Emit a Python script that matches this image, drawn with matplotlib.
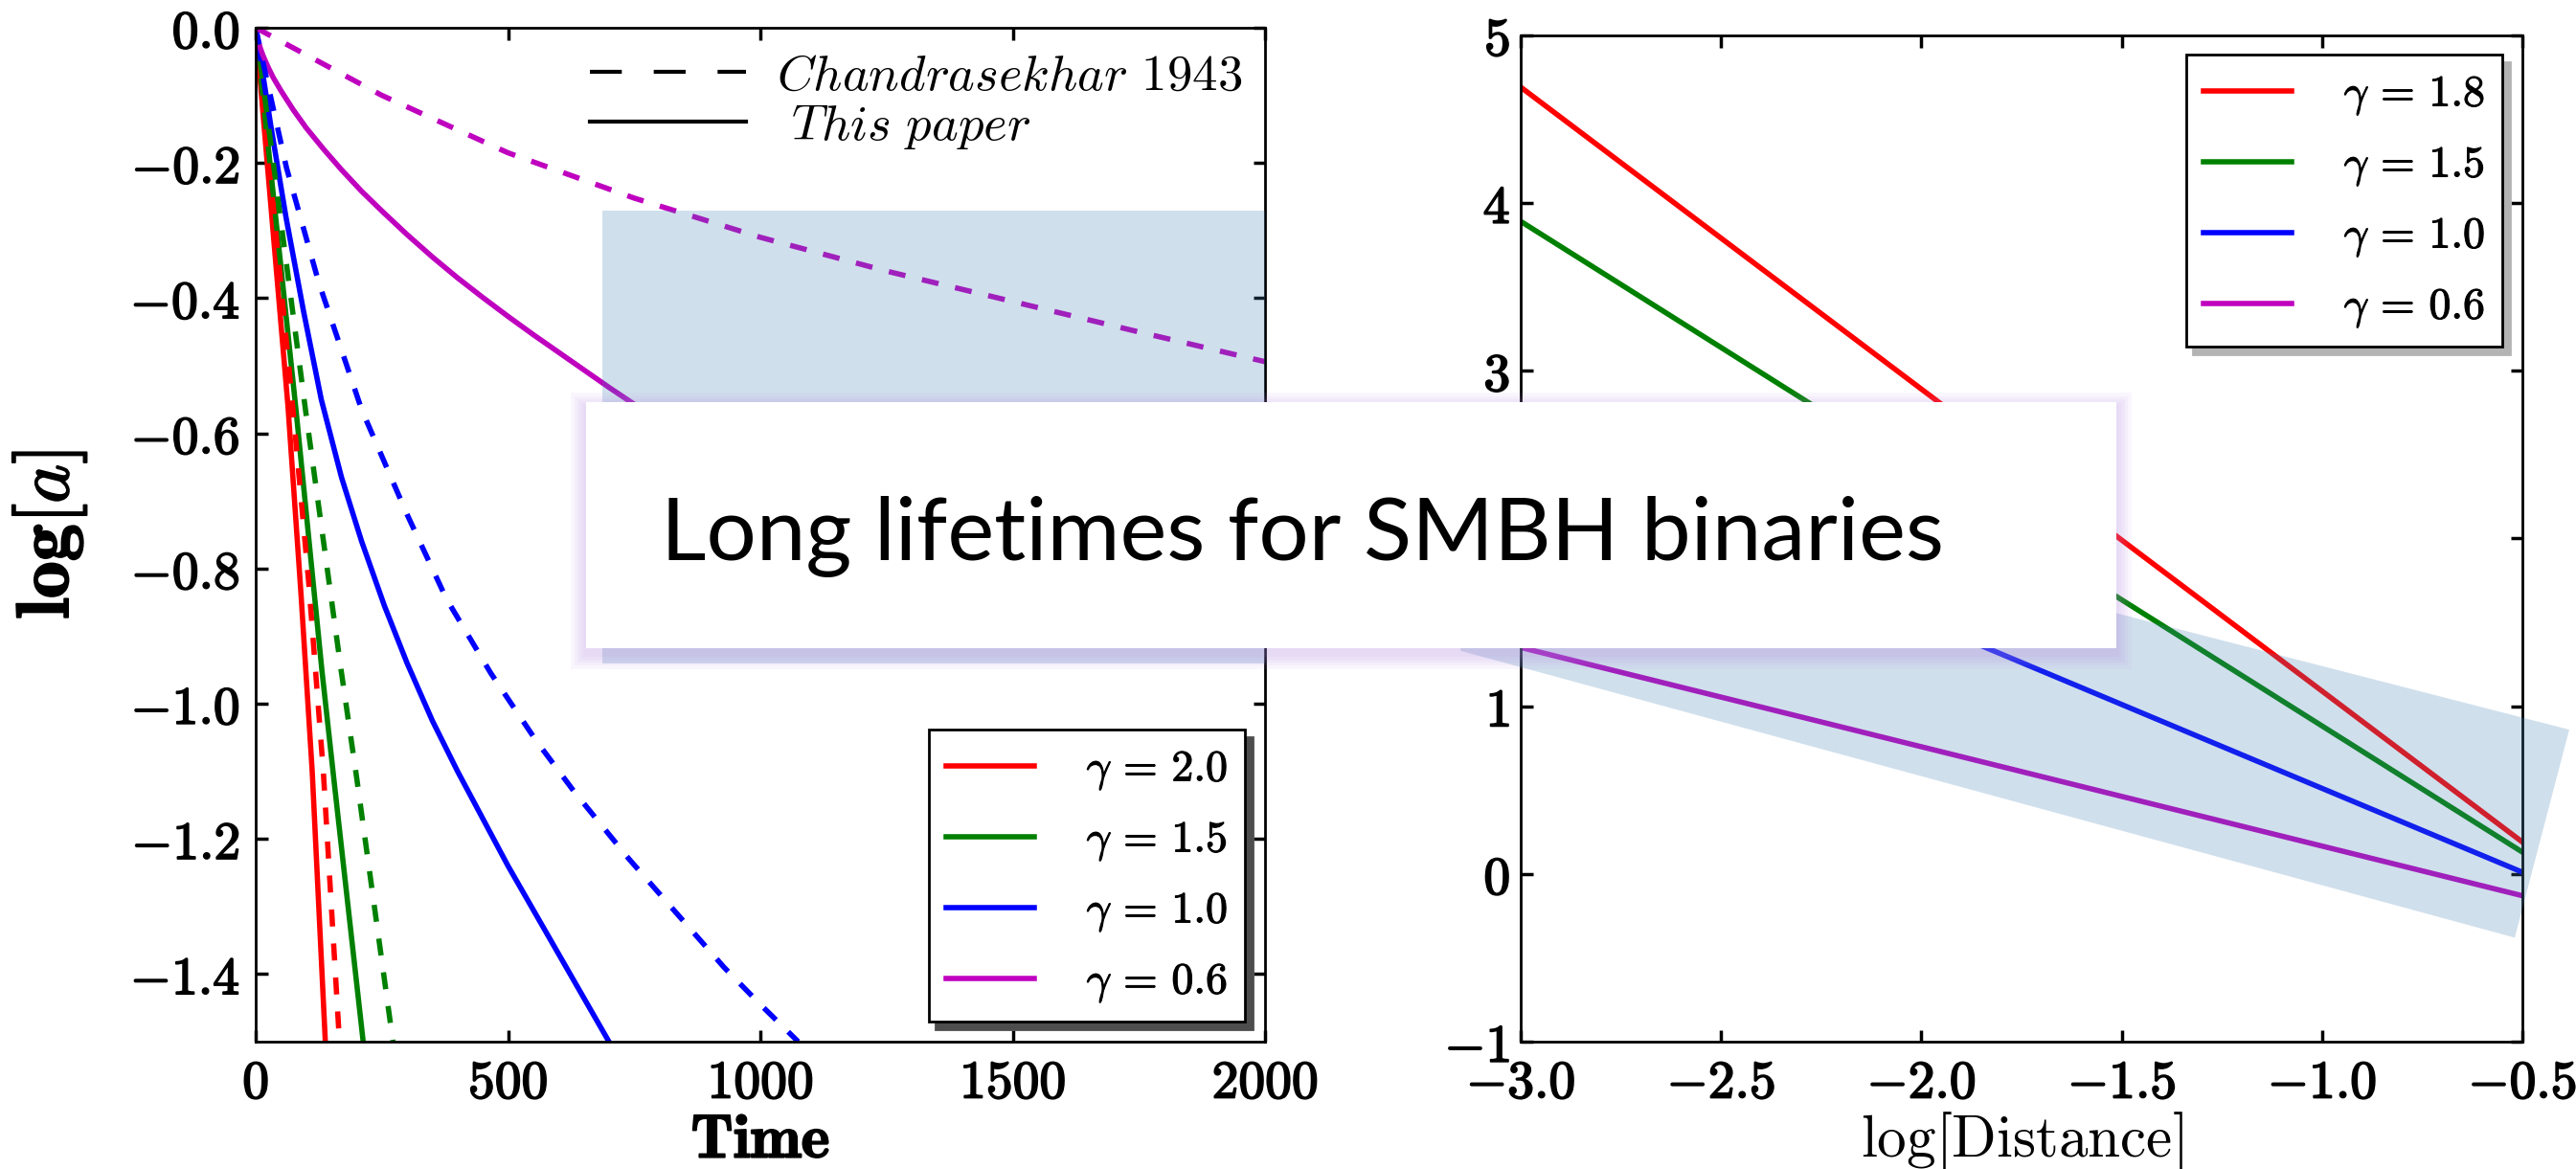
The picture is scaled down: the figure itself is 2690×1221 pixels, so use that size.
import numpy as np
import matplotlib
matplotlib.use('Agg')
import matplotlib.pyplot as plt
import matplotlib.patheffects as pe
from matplotlib.lines import Line2D
from matplotlib.patches import Rectangle, Polygon
from matplotlib.ticker import FuncFormatter

plt.rcParams['mathtext.fontset'] = 'cm'
plt.rcParams['axes.linewidth'] = 2.0

# ---- left panel: log[a] against time (solid = this paper, dashed = Chandrasekhar 1943)
t_r = [0, 32, 64, 90, 112, 138]
a_r = [0, -0.28, -0.56, -0.84, -1.10, -1.50]
t_r_ch = [0, 37, 74, 105, 134, 166]
a_r_ch = [0, -0.28, -0.566, -0.82, -1.10, -1.50]

t_g = [0, 80, 131, 156, 213]
a_g = [0, -0.566, -0.949, -1.119, -1.50]
t_g_ch = [0, 99, 169, 200, 272]
a_g_ch = [0, -0.567, -0.949, -1.109, -1.50]

t_b = [0, 30, 60, 95, 130, 170, 210, 255, 300, 350, 400, 450, 500, 550, 600, 650, 700]
a_b = [0, -0.145, -0.28, -0.42, -0.55, -0.665, -0.76, -0.855, -0.94, -1.025, -1.10,
       -1.17, -1.24, -1.305, -1.37, -1.435, -1.50]
t_b_ch = [0, 20, 61, 125, 210, 300, 378, 466, 556, 631, 740, 834, 928, 1000, 1075]
a_b_ch = [0, -0.07, -0.207, -0.377, -0.565, -0.72, -0.845, -0.955, -1.055, -1.13,
          -1.23, -1.31, -1.39, -1.445, -1.50]

t_m = [0, 5, 10, 15, 25, 35, 50, 75, 100, 135, 170, 210, 250, 300, 350, 400, 450, 500,
       550, 600, 650, 700, 750, 900, 1100, 1300, 1500, 1750, 2000]
a_m = [0, -0.020, -0.032, -0.042, -0.059, -0.074, -0.093, -0.122, -0.148, -0.180, -0.21,
       -0.242, -0.271, -0.306, -0.339, -0.37, -0.399, -0.427, -0.454, -0.48, -0.506,
       -0.532, -0.557, -0.62, -0.69, -0.75, -0.80, -0.85, -0.89]
t_m_ch = [0, 100, 250, 500, 750, 1000, 1250, 1500, 1750, 2000]
a_m_ch = [0, -0.04, -0.10, -0.185, -0.252, -0.31, -0.36, -0.405, -0.45, -0.494]

gam_left = ['2.0', '1.5', '1.0', '0.6']

# ---- right panel: straight lines against log[Distance]
dist = [-3.0, -0.5]
d_r = [4.69, 0.19]
d_g = [3.89, 0.13]
d_b = [2.51, 0.01]
d_m = [1.35, -0.13]
gam_right = ['1.8', '1.5', '1.0', '0.6']

# highlight shapes
hl_t = [686, 2000]
hl_a = [-0.27, -0.94]
band_x = [-3.15, -0.383, -0.519, -3.15]
band_y = [2.56, 0.86, -0.38, 1.33]

title = 'Long lifetimes for SMBH binaries'

cols = ['r', 'g', 'b', 'm']
W, H = 2690, 1221
fig = plt.figure(figsize=(W / 100, H / 100), dpi=100)

ax1 = fig.add_axes([267 / W, 1 - 1088 / H, 1054 / W, 1059 / H])
ax2 = fig.add_axes([1588 / W, 1 - 1088 / H, 1046 / W, (1088 - 36.7) / H])

bold = [pe.withStroke(linewidth=1.3, foreground='k')]


def num(v, fmt):
    s = fmt % abs(v)
    if v < -1e-9:
        return r'$-\mathbf{%s}$' % s
    return r'$\mathbf{%s}$' % s


lw = 4.0
dash = (0, (3.2, 3.2))
solid_t = [(t_r, a_r), (t_g, a_g), (t_b, a_b), (t_m, a_m)]
dash_t = [(t_r_ch, a_r_ch), (t_g_ch, a_g_ch), (t_b_ch, a_b_ch), (t_m_ch, a_m_ch)]
h1 = []
for (tt, aa), c, g in zip(solid_t, cols, gam_left):
    ln, = ax1.plot(tt, aa, color=c, lw=lw, label=r'$\gamma\,=\,\mathbf{%s}$' % g)
    h1.append(ln)
for (tt, aa), c in zip(dash_t, cols):
    ax1.plot(tt, aa, color=c, lw=lw, ls=dash)

ax1.add_patch(Rectangle((hl_t[0], hl_a[1]), hl_t[1] - hl_t[0], hl_a[0] - hl_a[1],
                        facecolor='steelblue', alpha=0.25, edgecolor='none', zorder=3))

ax1.set_xlim(0, 2000)
ax1.set_ylim(-1.5, 0.0)
ax1.set_xticks([0, 500, 1000, 1500, 2000])
ax1.set_yticks([0.0, -0.2, -0.4, -0.6, -0.8, -1.0, -1.2, -1.4])
ax1.xaxis.set_major_formatter(FuncFormatter(lambda v, p: num(v, '%d')))
ax1.yaxis.set_major_formatter(FuncFormatter(lambda v, p: num(v, '%.1f')))
ax1.tick_params(direction='in', length=9, width=2.5, top=True, right=True,
                labelsize=40, pad=12)
ax1.set_xlabel(r'$\mathbf{Time}$', fontsize=46, path_effects=bold)
ax1.xaxis.set_label_coords(0.5, -0.068)
ax1.set_ylabel(r'$\mathbf{log[}\mathit{a}\mathbf{]}$', fontsize=56, path_effects=bold)
ax1.yaxis.set_label_coords(-0.165, 0.5)

shadow = {'ox': 5.5, 'oy': -5.5, 'color': '0.3', 'alpha': 1.0}
leg1 = ax1.legend(handles=h1, loc='lower right', fontsize=33, fancybox=False,
                  shadow=shadow, handlelength=2.0, labelspacing=0.6,
                  borderaxespad=0.45, handletextpad=1.2)
leg1.get_frame().set_edgecolor('k')
leg1.get_frame().set_linewidth(2.0)
for tx in leg1.get_texts():
    tx.set_path_effects([pe.withStroke(linewidth=0.8, foreground='k')])
ax1.add_artist(leg1)

ref_h = [Line2D([], [], color='k', lw=3, ls=(0, (8, 8))),
         Line2D([], [], color='k', lw=3)]
ref_l = [r'$Chandrasekhar\ 1943$', r'$\ This\ paper$']
ax1.legend(ref_h, ref_l, loc='upper right', frameon=False, fontsize=38,
           handlelength=3.1, labelspacing=0.0, borderaxespad=0.15,
           borderpad=0.3, handletextpad=0.6)

h2 = []
for vals, c, g in zip([d_r, d_g, d_b, d_m], cols, gam_right):
    ln, = ax2.plot(dist, vals, color=c, lw=lw, label=r'$\gamma\,=\,\mathbf{%s}$' % g)
    h2.append(ln)
ax2.add_patch(Polygon(np.column_stack([band_x, band_y]), closed=True,
                      facecolor='steelblue', alpha=0.25, edgecolor='none',
                      zorder=3, clip_on=False))
ax2.set_xlim(-3.0, -0.5)
ax2.set_ylim(-1, 5)
ax2.set_xticks([-3.0, -2.5, -2.0, -1.5, -1.0, -0.5])
ax2.set_yticks([-1, 0, 1, 2, 3, 4, 5])
ax2.xaxis.set_major_formatter(FuncFormatter(lambda v, p: num(v, '%.1f')))
ax2.yaxis.set_major_formatter(FuncFormatter(lambda v, p: num(v, '%d')))
ax2.tick_params(direction='in', length=9, width=2.5, top=True, right=True,
                labelsize=40, pad=12)
ax2.tick_params(axis='y', pad=8)
ax2.set_xlabel(r'$\mathrm{log[Distance]}$', fontsize=44)
ax2.xaxis.set_label_coords(0.5, -0.068)
leg2 = ax2.legend(handles=h2, loc='upper right', fontsize=33, fancybox=False,
                  shadow={'ox': 5.5, 'oy': -5.5, 'color': '0.7', 'alpha': 1.0},
                  handlelength=2.0, labelspacing=0.6, borderaxespad=0.45,
                  handletextpad=1.2)
leg2.get_frame().set_edgecolor('k')
leg2.get_frame().set_linewidth(2.0)
for tx in leg2.get_texts():
    tx.set_path_effects([pe.withStroke(linewidth=0.8, foreground='k')])

for ax in (ax1, ax2):
    for lab in ax.get_xticklabels() + ax.get_yticklabels():
        lab.set_path_effects(bold)

# title card over both panels
bx0, by0, bx1, by1 = 612, 420, 2210, 677
for grow in [16, 12, 9, 6, 3]:
    fig.patches.append(Rectangle(((bx0 - grow) / W, 1 - (by1 + 6 + grow) / H),
                                 (bx1 - bx0 + 2 * grow) / W, (by1 - by0 + 2 * grow) / H,
                                 transform=fig.transFigure, facecolor='#b48ce6',
                                 edgecolor='none', alpha=0.07, zorder=9))
fig.patches.append(Rectangle((bx0 / W, 1 - by1 / H), (bx1 - bx0) / W, (by1 - by0) / H,
                             transform=fig.transFigure, facecolor='white',
                             edgecolor='none', zorder=10))
txt = fig.text(690 / W, 1 - 585 / H, title, fontsize=60, family='Lato',
               ha='left', va='baseline', zorder=11)
fig.canvas.draw()
tw = txt.get_window_extent().width
txt.set_fontsize(60 * 1342 / tw)

fig.savefig('out.png', dpi=100)
